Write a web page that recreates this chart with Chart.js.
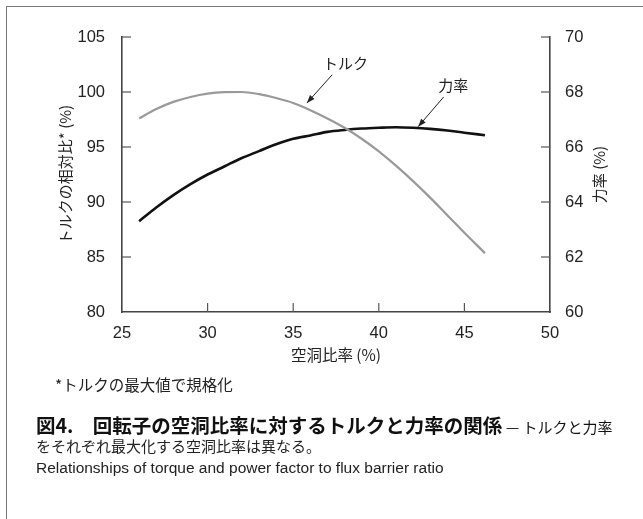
<!DOCTYPE html>
<html>
<head>
<meta charset="utf-8">
<script src="https://cdn.jsdelivr.net/npm/chart.js@4"></script>
<style>
  body { margin: 0; background: #fff; }
  #wrap { position: relative; width: 643px; height: 519px; overflow: hidden; }
  #frame { position: absolute; left: 6px; top: 6px; right: -10px; bottom: -10px;
           border-top: 1.5px solid #777; border-left: 1.5px solid #777; }
  canvas { position: absolute; left: 0; top: 0; }
  .txt { position: absolute; white-space: nowrap; color: #222; }
  .jp { font-family: "Noto Sans CJK JP", sans-serif; }
  .en { font-family: "Liberation Sans", Arial, sans-serif; }
</style>
</head>
<body>
<div id="wrap">
  <div id="frame"></div>
  <canvas id="chart" width="643" height="519"></canvas>
  <div class="txt jp" style="left:55px; top:373px; font-size:15.5px;">*トルクの最大値で規格化</div>
  <div class="txt jp" style="left:36px; top:410px; font-size:15px; color:#111;"><b style="font-size:19.5px;">図4.　回転子の空洞比率に対するトルクと力率の関係</b> — トルクと力率</div>
  <div class="txt jp" style="left:36px; top:435px; font-size:15px;">をそれぞれ最大化する空洞比率は異なる。</div>
  <div class="txt en" style="left:36px; top:459px; font-size:15.5px;">Relationships of torque and power factor to flux barrier ratio</div>
</div>
<script>
// data
const ratio = [26, 27, 28, 29, 30, 31, 32, 33, 34, 35, 36, 37, 38, 39, 40, 41, 42, 43, 44, 45, 46.2];
const torque = [97.6, 98.45, 99.1, 99.55, 99.85, 99.98, 100.0, 99.8, 99.45, 99.0, 98.35, 97.6, 96.75, 95.75, 94.6, 93.3, 91.9, 90.4, 88.8, 87.2, 85.35];
const powerFactor = [63.3, 63.8, 64.25, 64.65, 65.0, 65.3, 65.6, 65.85, 66.1, 66.3, 66.42, 66.55, 66.62, 66.67, 66.7, 66.72, 66.7, 66.66, 66.6, 66.52, 66.43];
const xTicks = [25, 30, 35, 40, 45, 50];
const leftTicks = [80, 85, 90, 95, 100, 105];
const rightTicks = [60, 62, 64, 66, 68, 70];

const tickFont = { family: 'Liberation Sans, Arial, sans-serif', size: 16.5 };
const jpFont = '"Noto Sans CJK JP", sans-serif';

// inward tick marks, axis titles and the two arrow labels
const extras = {
  id: 'extras',
  afterDraw(chart) {
    const ctx = chart.ctx;
    const { left, right, top, bottom } = chart.chartArea;
    const x = chart.scales.x, y = chart.scales.y, y2 = chart.scales.y2;
    ctx.save();
    ctx.strokeStyle = '#555';
    ctx.lineWidth = 1.2;
    xTicks.slice(1, -1).forEach(v => {
      const px = x.getPixelForValue(v);
      ctx.beginPath(); ctx.moveTo(px, bottom); ctx.lineTo(px, bottom - 9); ctx.stroke();
    });
    leftTicks.slice(1).forEach(v => {
      const py = y.getPixelForValue(v);
      ctx.beginPath(); ctx.moveTo(left, py); ctx.lineTo(left + 9, py); ctx.stroke();
    });
    rightTicks.slice(1).forEach(v => {
      const py = y2.getPixelForValue(v);
      ctx.beginPath(); ctx.moveTo(right, py); ctx.lineTo(right - 9, py); ctx.stroke();
    });

    ctx.fillStyle = '#222';
    ctx.textAlign = 'center';
    ctx.textBaseline = 'middle';
    ctx.font = '15px ' + jpFont;
    const midY = (top + bottom) / 2;
    ctx.save(); ctx.translate(65, midY); ctx.rotate(-Math.PI / 2);
    ctx.fillText('トルクの相対比* (%)', 0, 0); ctx.restore();
    ctx.save(); ctx.translate(599, midY); ctx.rotate(-Math.PI / 2);
    ctx.fillText('力率 (%)', 0, 0); ctx.restore();
    ctx.font = '15.5px ' + jpFont;
    ctx.fillText('空洞比率 (%)', (left + right) / 2, 355);

    // labels with arrows
    const notes = [
      { text: 'トルク', at: [38.05, 102.65], from: [37.28, 101.57], to: [35.8, 99.0] },
      { text: '力率', at: [44.35, 100.6], from: [43.79, 99.55], to: [42.3, 96.85] }
    ];
    ctx.font = '15px ' + jpFont;
    notes.forEach(n => {
      ctx.fillStyle = '#222';
      ctx.fillText(n.text, x.getPixelForValue(n.at[0]), y.getPixelForValue(n.at[1]));
      const x1 = x.getPixelForValue(n.from[0]), y1 = y.getPixelForValue(n.from[1]);
      const x2 = x.getPixelForValue(n.to[0]), y2p = y.getPixelForValue(n.to[1]);
      ctx.strokeStyle = '#222'; ctx.lineWidth = 1;
      ctx.beginPath(); ctx.moveTo(x1, y1); ctx.lineTo(x2, y2p); ctx.stroke();
      const a = Math.atan2(y2p - y1, x2 - x1);
      ctx.beginPath();
      ctx.moveTo(x2, y2p);
      ctx.lineTo(x2 - 8 * Math.cos(a) + 3 * Math.sin(a), y2p - 8 * Math.sin(a) - 3 * Math.cos(a));
      ctx.lineTo(x2 - 8 * Math.cos(a) - 3 * Math.sin(a), y2p - 8 * Math.sin(a) + 3 * Math.cos(a));
      ctx.closePath(); ctx.fill();
    });
    ctx.restore();
  }
};

new Chart(document.getElementById('chart'), {
  type: 'line',
  data: {
    datasets: [
      {
        label: 'トルク',
        data: ratio.map((r, i) => ({ x: r, y: torque[i] })),
        yAxisID: 'y',
        borderColor: '#999',
        borderWidth: 2.2,
        pointRadius: 0,
        cubicInterpolationMode: 'monotone'
      },
      {
        label: '力率',
        data: ratio.map((r, i) => ({ x: r, y: powerFactor[i] })),
        yAxisID: 'y2',
        borderColor: '#111',
        borderWidth: 2.6,
        pointRadius: 0,
        cubicInterpolationMode: 'monotone'
      }
    ]
  },
  options: {
    responsive: false,
    animation: false,
    devicePixelRatio: 1,
    layout: { padding: { top: 37, left: 0, right: 0, bottom: 0 } },
    plugins: { legend: { display: false }, tooltip: { enabled: false } },
    scales: {
      x: {
        type: 'linear', min: 25, max: 50,
        afterBuildTicks: s => { s.ticks = xTicks.map(v => ({ value: v })); },
        afterFit: s => { s.height = 207; },
        grid: { display: false },
        border: { display: true, color: '#444', width: 1.6 },
        ticks: { color: '#222', font: tickFont, padding: 4, maxRotation: 0 }
      },
      y: {
        position: 'left', min: 80, max: 105,
        afterBuildTicks: s => { s.ticks = leftTicks.map(v => ({ value: v })); },
        afterFit: s => { s.width = 122; },
        grid: { display: false },
        border: { display: true, color: '#444', width: 1.6 },
        ticks: { color: '#222', font: tickFont, padding: 9 }
      },
      y2: {
        position: 'right', min: 60, max: 70,
        afterBuildTicks: s => { s.ticks = rightTicks.map(v => ({ value: v })); },
        afterFit: s => { s.width = 93; },
        grid: { display: false },
        border: { display: true, color: '#444', width: 1.6 },
        ticks: { color: '#222', font: tickFont, padding: 7 }
      }
    }
  },
  plugins: [extras]
});
</script>
</body>
</html>
